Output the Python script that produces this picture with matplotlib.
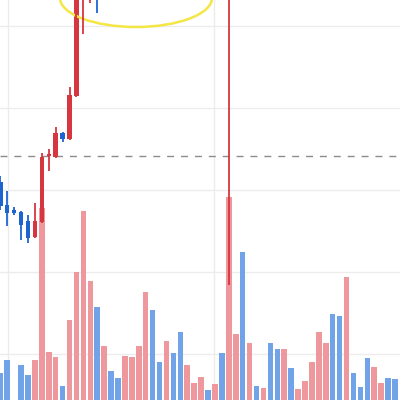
import matplotlib
matplotlib.use('Agg')
import matplotlib.pyplot as plt
from matplotlib.patches import Ellipse
import numpy as np

plt.rcParams.update({
  'figure.facecolor' : 'w',
  'figure.dpi'       : 100,
  'figure.figsize'   : (4, 4),
  'axes.grid'        : False,
})

# candle data (red = up, blue = down)
opens = [120.98, 118.17, 117.56, 117.32, 116.22, 114.27, 116.10, 124.15, 124.02, 126.95,
         126.22, 131.46, 150.0, 157.0, 162.0, 159.0, 163.0, 161.0, 159.5, 162.0,
         164.0, 167.0, 172.0, 168.0, 166.5, 169.0, 167.5, 164.5, 166.0, 166.8,
         167.5, 167.0, 167.8, 165.5, 170.0, 172.5, 167.0, 169.0, 168.4, 168.9,
         166.5, 164.8, 166.6, 165.6, 166.0, 166.7, 168.0, 170.4, 172.0, 169.0,
         166.0, 170.5, 169.6, 169.1, 167.4, 168.6, 169.0, 168.2]
closes = [118.05, 117.20, 117.20, 115.73, 114.15, 116.22, 124.02, 124.39, 126.95, 126.22,
          131.59, 150.0, 157.0, 162.0, 159.0, 163.0, 161.0, 159.5, 162.0, 164.0,
          167.0, 172.0, 168.0, 166.5, 169.0, 167.5, 164.5, 166.0, 166.8, 167.5,
          167.0, 167.8, 165.5, 170.0, 172.5, 167.0, 169.0, 168.4, 168.9, 166.5,
          164.8, 166.6, 165.6, 166.0, 166.7, 168.0, 170.4, 172.0, 169.0, 166.0,
          170.5, 169.6, 169.1, 167.4, 168.6, 169.0, 168.2, 167.5]
highs = [121.71, 119.88, 117.93, 117.40, 116.95, 118.41, 124.51, 125.00, 127.68, 127.07,
         132.56, 151.5, 159.0, 164.0, 165.0, 165.0, 164.0, 162.0, 163.0, 165.0,
         168.0, 174.0, 173.0, 169.0, 170.0, 170.0, 168.0, 167.0, 167.5, 168.0,
         168.0, 168.5, 168.2, 173.0, 174.0, 173.0, 170.0, 169.5, 169.3, 169.2,
         167.0, 167.2, 167.0, 166.3, 167.0, 168.6, 171.0, 172.8, 172.5, 169.5,
         171.5, 171.0, 169.9, 169.4, 169.0, 169.3, 169.2, 168.6]
lows = [117.56, 115.61, 116.95, 113.90, 113.54, 114.20, 116.00, 122.32, 123.95, 125.85,
        126.10, 131.30, 139.02, 142.80, 141.59, 157.0, 160.0, 158.0, 158.5, 161.0,
        163.0, 166.0, 167.0, 165.5, 165.8, 166.5, 163.5, 164.0, 165.5, 166.2,
        166.4, 166.6, 165.0, 108.41, 169.0, 166.0, 166.5, 168.0, 168.0, 166.0,
        164.2, 164.5, 165.2, 165.4, 165.7, 166.4, 167.8, 170.0, 168.5, 165.4,
        165.8, 169.2, 168.8, 167.0, 167.2, 168.4, 167.9, 167.2]
volumes = [27, 40, 0, 35, 25, 40, 192, 48, 43, 14,
           80, 128, 189, 119, 93, 54, 29, 22, 44, 43,
           54, 108, 90, 38, 59, 47, 68, 35, 17, 23,
           10, 16, 47, 203, 66, 148, 57, 14, 12, 57,
           51, 51, 32, 11, 19, 38, 68, 57, 86, 84,
           123, 27, 13, 42, 33, 17, 22, 21]

price_levels = [100, 110, 120, 130, 140]
date_ticks = [1.1, 30.85]
ref_price = 124.15

red = '#d7353f'
blue = '#1d64d1'
vol_red = '#ee989d'
vol_blue = '#70a3e8'

x = np.arange(len(opens))
opens = np.array(opens)
closes = np.array(closes)
up = closes >= opens
candle_colors = [red if u else blue for u in up]
vol_colors = [vol_red if u else vol_blue for u in up]

fig = plt.figure()
ax = fig.add_axes([0, 0, 1, 1])
axv = ax.twinx()
axc = ax.twinx()

# grid + reference line on bottom axis
ax.set_yticks(price_levels)
ax.set_xticks(date_ticks)
ax.grid(True, color='#ececec', linewidth=1.0)
ax.axhline(ref_price, color='#8c8c8c', linestyle=(0, (5, 5)), linewidth=1.0)

# volume
axv.bar(x, volumes, width=0.8, color=vol_colors, linewidth=0)
axv.set_ylim(0, 400)

# candles
axc.vlines(x, lows, highs, colors=candle_colors, linewidth=1.3)
body_bottom = np.minimum(opens, closes)
body_height = np.maximum(np.abs(closes - opens), 0.2)
axc.bar(x, body_height, bottom=body_bottom, width=0.65, color=candle_colors, linewidth=0)

for a in (ax, axv, axc):
  a.set_xlim(-0.04, 57.72)
  for s in a.spines.values():
    s.set_visible(False)
  a.tick_params(left=False, right=False, bottom=False, top=False,
                labelleft=False, labelright=False, labelbottom=False)
ax.set_ylim(94.39, 143.17)
axc.set_ylim(94.39, 143.17)
axv.patch.set_visible(False)
axc.patch.set_visible(False)

# yellow highlight ring
ring = Ellipse((0.34, 1.005), 0.38, 0.145, transform=axc.transAxes,
               fill=False, edgecolor='#f3e645', linewidth=1.8, clip_on=False)
axc.add_patch(ring)

plt.savefig('out.png', dpi=100)
